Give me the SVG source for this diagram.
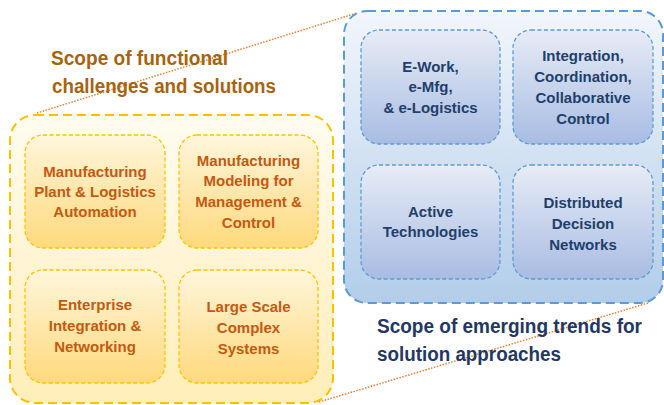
<svg xmlns="http://www.w3.org/2000/svg" width="664" height="405" viewBox="0 0 664 405">
<defs>
<linearGradient id="gYo" x1="0" y1="0" x2="0" y2="1"><stop offset="0" stop-color="#fffcf0"/><stop offset="1" stop-color="#ffeeb8"/></linearGradient>
<linearGradient id="gYi" x1="0" y1="0" x2="0" y2="1"><stop offset="0" stop-color="#fff6dc"/><stop offset="1" stop-color="#ffd97c"/></linearGradient>
<linearGradient id="gBo" x1="0" y1="0" x2="0" y2="1"><stop offset="0" stop-color="#f2f6fb"/><stop offset="1" stop-color="#b2cdea"/></linearGradient>
<linearGradient id="gBi" x1="0" y1="0" x2="0" y2="1"><stop offset="0" stop-color="#e7ecf6"/><stop offset="1" stop-color="#a8bce3"/></linearGradient>
<style>
.yo{fill:url(#gYo);stroke:#ffc000;stroke-width:2;stroke-dasharray:9 5}
.yi{fill:url(#gYi);stroke:#ffc000;stroke-width:1.3;stroke-dasharray:4 2.5}
.bo{fill:url(#gBo);stroke:#5b9bd5;stroke-width:2;stroke-dasharray:9 5}
.bi{fill:url(#gBi);stroke:#5b9bd5;stroke-width:1.3;stroke-dasharray:4 2.5}
.ty{font-family:"Liberation Sans",Arial,sans-serif;font-weight:bold;font-size:15px;fill:#c55a11;text-anchor:middle}
.tb{font-family:"Liberation Sans",Arial,sans-serif;font-weight:bold;font-size:15px;fill:#1f3f6b;text-anchor:middle}
.h1{font-family:"Liberation Sans",Arial,sans-serif;font-weight:bold;font-size:20px;fill:#a8630f}
.h2{font-family:"Liberation Sans",Arial,sans-serif;font-weight:bold;font-size:20px;fill:#1f3864}
.dot{stroke:#ed7d31;stroke-width:1.5;stroke-dasharray:1.5 1.5;fill:none}
</style>
</defs>
<rect width="664" height="405" fill="#ffffff"/>
<g id="connectors">
<line class="dot" x1="37" y1="113" x2="357" y2="13"/>
<line class="dot" x1="319" y1="402" x2="648" y2="303"/>
</g>
<g id="functional-scope">
<rect class="yo" x="10" y="115" width="323" height="288" rx="25" ry="25"/>
</g>
<g id="emerging-scope">
<rect class="bo" x="344" y="11" width="319" height="292" rx="23" ry="23"/>
</g>
<text class="h1" x="51" y="65" textLength="177" lengthAdjust="spacingAndGlyphs">Scope of functional</text>
<text class="h1" x="52" y="93" textLength="224" lengthAdjust="spacingAndGlyphs">challenges and solutions</text>
<text class="h2" x="377" y="333" textLength="265" lengthAdjust="spacingAndGlyphs">Scope of emerging trends for</text>
<text class="h2" x="377" y="361" textLength="184" lengthAdjust="spacingAndGlyphs">solution approaches</text>
<g id="y1">
<rect class="yi" x="25" y="135" width="140" height="113" rx="18" ry="18"/>
<text class="ty" x="95" y="177">Manufacturing</text>
<text class="ty" x="95" y="197">Plant &amp; Logistics</text>
<text class="ty" x="95" y="217">Automation</text>
</g>
<g id="y2">
<rect class="yi" x="179" y="135" width="139" height="113" rx="18" ry="18"/>
<text class="ty" x="248.5" y="166">Manufacturing</text>
<text class="ty" x="248.5" y="186">Modeling for</text>
<text class="ty" x="248.5" y="207">Management &amp;</text>
<text class="ty" x="248.5" y="228">Control</text>
</g>
<g id="y3">
<rect class="yi" x="25" y="270" width="140" height="113" rx="18" ry="18"/>
<text class="ty" x="95" y="310">Enterprise</text>
<text class="ty" x="95" y="331">Integration &amp;</text>
<text class="ty" x="95" y="352">Networking</text>
</g>
<g id="y4">
<rect class="yi" x="179" y="270" width="139" height="113" rx="18" ry="18"/>
<text class="ty" x="248.5" y="312">Large Scale</text>
<text class="ty" x="248.5" y="333">Complex</text>
<text class="ty" x="248.5" y="354">Systems</text>
</g>
<g id="b1">
<rect class="bi" x="361" y="30" width="139" height="114" rx="18" ry="18"/>
<text class="tb" x="430.5" y="72">E-Work,</text>
<text class="tb" x="430.5" y="92">e-Mfg,</text>
<text class="tb" x="430.5" y="113">&amp; e-Logistics</text>
</g>
<g id="b2">
<rect class="bi" x="513" y="30" width="140" height="114" rx="18" ry="18"/>
<text class="tb" x="583" y="61">Integration,</text>
<text class="tb" x="583" y="82">Coordination,</text>
<text class="tb" x="583" y="103">Collaborative</text>
<text class="tb" x="583" y="124">Control</text>
</g>
<g id="b3">
<rect class="bi" x="361" y="165" width="139" height="114" rx="18" ry="18"/>
<text class="tb" x="430.5" y="217">Active</text>
<text class="tb" x="430.5" y="237">Technologies</text>
</g>
<g id="b4">
<rect class="bi" x="513" y="165" width="140" height="114" rx="18" ry="18"/>
<text class="tb" x="583" y="208">Distributed</text>
<text class="tb" x="583" y="229">Decision</text>
<text class="tb" x="583" y="250">Networks</text>
</g>
</svg>
